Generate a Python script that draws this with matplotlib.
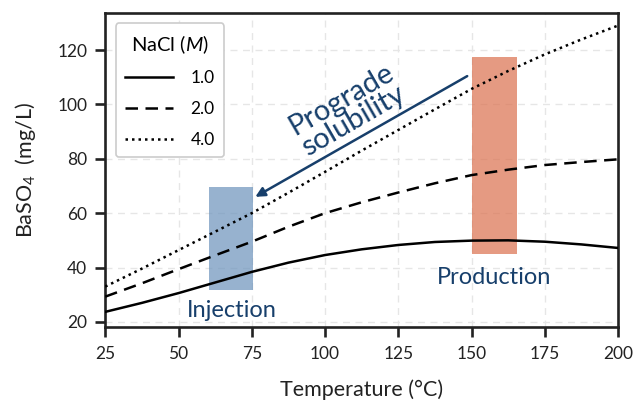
import matplotlib
matplotlib.use("Agg")
import matplotlib.pyplot as plt
from matplotlib.patches import Rectangle

plt.rcParams['font.family'] = ['Lato', 'DejaVu Sans']
plt.rcParams['mathtext.fontset'] = 'custom'
plt.rcParams['mathtext.rm'] = 'Lato'
plt.rcParams['mathtext.it'] = 'Lato:italic'

temperature = [25, 37.5, 50, 62.5, 75, 87.5, 100, 112.5, 125, 137.5, 150, 162.5, 175, 187.5, 200]
nacl_1 = [23.7, 27.0, 30.6, 34.5, 38.4, 41.8, 44.6, 46.7, 48.3, 49.4, 49.9, 50.0, 49.5, 48.5, 47.2]
nacl_2 = [29.3, 34.2, 39.4, 44.5, 49.5, 55.0, 60.0, 64.0, 67.6, 71.0, 74.0, 76.0, 77.7, 78.8, 79.8]
nacl_4 = [33.0, 39.6, 46.4, 53.2, 60.0, 67.5, 75.2, 83.0, 90.6, 98.2, 105.7, 112.3, 118.4, 123.9, 129.0]
series_labels = ['1.0', '2.0', '4.0']

injection_T = (60.5, 75.5)
injection_y = (31.8, 69.5)
production_T = (150.0, 165.5)
production_y = (45.0, 117.4)

navy = '#173f6b'
ink = '#222222'

fig = plt.figure(figsize=(6.34, 4.07), dpi=100)
ax = fig.add_axes([0.166, 0.197, 0.809, 0.771])

ax.grid(True, linestyle=(0, (5, 4)), color='#e6e6e6', linewidth=1.0, zorder=0)
ax.set_axisbelow(True)

ax.add_patch(Rectangle((injection_T[0], injection_y[0]), injection_T[1] - injection_T[0],
                       injection_y[1] - injection_y[0], facecolor='#6f95bd', alpha=0.72,
                       edgecolor='none', zorder=1))
ax.add_patch(Rectangle((production_T[0], production_y[0]), production_T[1] - production_T[0],
                       production_y[1] - production_y[0], facecolor='#dc7452', alpha=0.72,
                       edgecolor='none', zorder=1))

ax.plot(temperature, nacl_1, color='black', lw=1.8, ls='-', label=series_labels[0], zorder=3)
ax.plot(temperature, nacl_2, color='black', lw=1.8, ls=(0, (5, 3)), label=series_labels[1], zorder=3)
ax.plot(temperature, nacl_4, color='black', lw=1.8, ls=(0, (1, 1.6)), label=series_labels[2], zorder=3)

ax.annotate('', xy=(76.2, 66.0), xytext=(148.5, 110.4),
            arrowprops=dict(arrowstyle='-|>', color=navy, lw=1.8, mutation_scale=14,
                            shrinkA=0, shrinkB=0), zorder=4)
ax.text(107.6, 97.9, 'Prograde\nsolubility', color=navy, fontsize=21, rotation=30,
        ha='center', va='center', linespacing=0.95, rotation_mode='anchor', zorder=4)
ax.text(68.3, 21.8, 'Injection', color=navy, fontsize=17, ha='center', va='baseline', zorder=4)
ax.text(157.7, 34.0, 'Production', color=navy, fontsize=17, ha='center', va='baseline', zorder=4)

ax.set_xlim(25, 200)
ax.set_ylim(18.2, 133.6)
ax.set_xticks([25, 50, 75, 100, 125, 150, 175, 200])
ax.set_yticks([20, 40, 60, 80, 100, 120])
ax.tick_params(axis='both', direction='out', length=7, width=1.9, labelsize=12.5,
               color=ink, labelcolor=ink)
ax.tick_params(axis='x', pad=7)
ax.tick_params(axis='y', pad=6)
for s in ax.spines.values():
    s.set_linewidth(1.9)
    s.set_color(ink)

ax.set_xlabel('Temperature (°C)', fontsize=15.5, color=ink, labelpad=12)
ax.set_ylabel('BaSO$_4$  (mg/L)', fontsize=15.5, color=ink, labelpad=14)

leg = ax.legend(title='NaCl ($M$)', loc='upper left', fontsize=12.5, title_fontsize=14.5,
                frameon=True, handlelength=2.75, handletextpad=1.0, borderpad=0.55,
                labelspacing=0.85, bbox_to_anchor=(0.0, 1.0), borderaxespad=0.6)
leg.get_frame().set_edgecolor('#cccccc')
leg.get_frame().set_linewidth(1.2)
leg.get_frame().set_alpha(1.0)

fig.savefig('out.png', dpi=100)
